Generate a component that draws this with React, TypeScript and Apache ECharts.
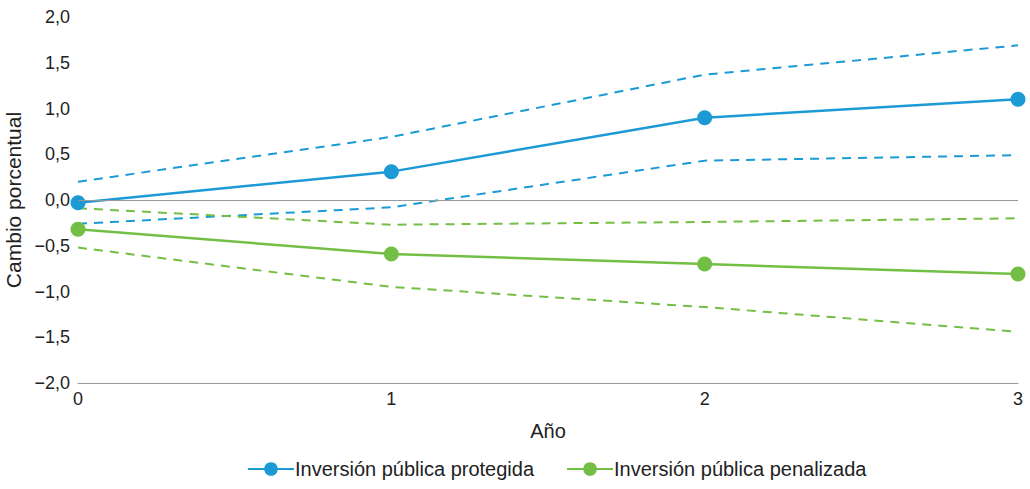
import React, { useEffect, useRef } from "react";
import * as echarts from "echarts";

const years = [0, 1, 2, 3];
const protegida = [-0.03, 0.31, 0.9, 1.1];
const protegidaUpper = [0.2, 0.69, 1.37, 1.69];
const protegidaLower = [-0.26, -0.08, 0.43, 0.49];
const penalizada = [-0.32, -0.59, -0.7, -0.81];
const penalizadaUpper = [-0.09, -0.27, -0.24, -0.2];
const penalizadaLower = [-0.52, -0.95, -1.17, -1.44];

const BLUE = "#1b9ad6";
const GREEN = "#73bf45";
const FONT = "Liberation Sans, Arial, sans-serif";
const TXT = "#222";

const pairs = (vals: number[]) => years.map((y, i) => [y, vals[i]]);

export default function App() {
  const ref = useRef<HTMLDivElement>(null);
  useEffect(() => {
    document.body.style.margin = "0";
    if (!ref.current) return;
    const chart = echarts.init(ref.current, undefined, { renderer: "svg" });
    const dashed = (name: string, data: number[], color: string) => ({
      name,
      type: "line",
      data: pairs(data),
      symbol: "none",
      lineStyle: { color, width: 2, type: [9, 7] },
      silent: true,
    });
    chart.setOption({
      animation: false,
      textStyle: { fontFamily: FONT },
      grid: {
        left: 78,
        right: 12,
        top: 17,
        bottom: 106,
        containLabel: false,
        outerBoundsMode: "none",
      },
      legend: {
        data: ["Inversión pública protegida", "Inversión pública penalizada"],
        top: 454,
        left: 242,
        itemWidth: 46,
        itemHeight: 17,
        itemGap: 32,
        textStyle: { fontSize: 20, color: TXT, fontFamily: FONT, padding: [0, 0, 0, -4] },
      },
      xAxis: {
        type: "value",
        min: 0,
        max: 3,
        interval: 1,
        name: "Año",
        nameLocation: "middle",
        nameGap: 38,
        nameTextStyle: { fontSize: 20, color: TXT },
        axisLine: { onZero: false, lineStyle: { color: "#999", width: 1 } },
        axisTick: { show: false },
        splitLine: { show: false },
        axisLabel: {
          fontSize: 18,
          color: TXT,
          margin: 7,
          formatter: (v: number) => String(v),
        },
      },
      yAxis: {
        type: "value",
        min: -2,
        max: 2,
        interval: 0.5,
        name: "Cambio porcentual",
        nameLocation: "middle",
        nameGap: 53,
        nameTextStyle: { fontSize: 21, color: TXT },
        axisLine: { show: false },
        axisTick: { show: false },
        splitLine: { show: false },
        axisLabel: {
          fontSize: 18,
          color: TXT,
          margin: 8,
          formatter: (v: number) =>
            (v < 0 ? "\u2212" : "") + Math.abs(v).toFixed(1).replace(".", ","),
        },
      },
      series: [
        {
          name: "zero",
          type: "line",
          data: [],
          silent: true,
          markLine: {
            silent: true,
            symbol: "none",
            label: { show: false },
            lineStyle: { color: "#999", width: 1, type: "solid" },
            data: [{ yAxis: 0 }],
          },
        },
        dashed("protegidaUpper", protegidaUpper, BLUE),
        dashed("protegidaLower", protegidaLower, BLUE),
        dashed("penalizadaUpper", penalizadaUpper, GREEN),
        dashed("penalizadaLower", penalizadaLower, GREEN),
        {
          name: "Inversión pública protegida",
          type: "line",
          data: pairs(protegida),
          symbol: "circle",
          symbolSize: 15,
          itemStyle: { color: BLUE },
          lineStyle: { color: BLUE, width: 2.5 },
        },
        {
          name: "Inversión pública penalizada",
          type: "line",
          data: pairs(penalizada),
          symbol: "circle",
          symbolSize: 15,
          itemStyle: { color: GREEN },
          lineStyle: { color: GREEN, width: 2.5 },
        },
      ],
    });
    return () => chart.dispose();
  }, []);
  return <div ref={ref} style={{ width: 1030, height: 489 }} />;
}
